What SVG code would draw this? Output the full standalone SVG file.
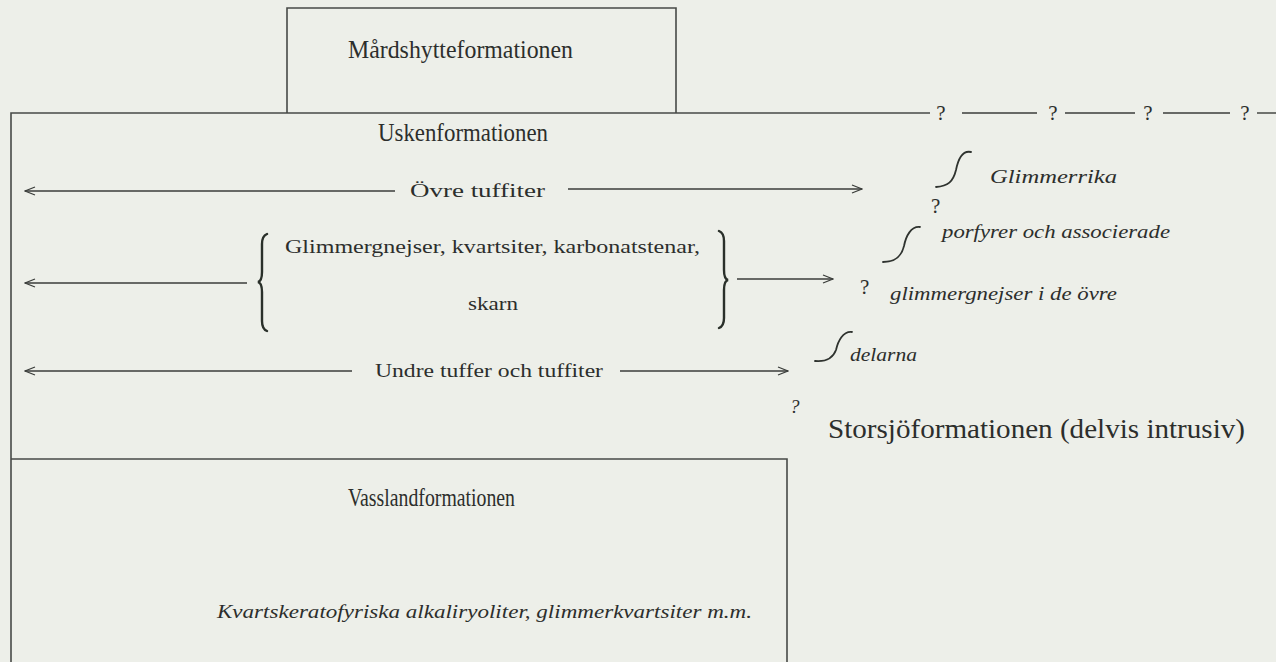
<svg xmlns="http://www.w3.org/2000/svg" width="1276" height="662" viewBox="0 0 1276 662">
<defs>
<marker id="ah" viewBox="0 0 12 10" refX="11" refY="5" markerWidth="12" markerHeight="10" markerUnits="userSpaceOnUse" orient="auto-start-reverse">
<path d="M1 1 L11 5 L1 9" fill="none" stroke="#3a3d3a" stroke-width="1.3"/>
</marker>
<style>
.ln{fill:none;stroke:#3a3d3a;stroke-width:1.4}
.bx{fill:none;stroke:#474a47;stroke-width:1.6}
.t{font-family:"Liberation Serif","Times New Roman",serif;fill:#2c2e2c}
.big{font-size:26px}
.med{font-size:19px}
.q{font-size:21px}
.it{font-style:italic;font-size:19px}
.br{fill:none;stroke:#2a302a;stroke-width:2.4;stroke-linecap:round}
.cv{fill:none;stroke:#2f332f;stroke-width:1.8;stroke-linecap:round}
</style>
</defs>
<rect width="1276" height="662" fill="#edefe9"/>
<g id="mardshytte">
<path class="bx" d="M287 113 V8 H676 V113"/>
<text class="t big" x="348" y="58" textLength="225" lengthAdjust="spacingAndGlyphs">Mårdshytteformationen</text>
</g>
<g id="usken">
<path class="bx" d="M11 662 V113 H930"/>
<text class="t big" x="378" y="141" textLength="170" lengthAdjust="spacingAndGlyphs">Uskenformationen</text>
</g>
<g id="boundary">
<text class="t q" x="941" y="120" text-anchor="middle">?</text>
<line class="ln" x1="962" y1="113" x2="1037" y2="113"/>
<text class="t q" x="1053" y="120" text-anchor="middle">?</text>
<line class="ln" x1="1065" y1="113" x2="1135" y2="113"/>
<text class="t q" x="1148" y="120" text-anchor="middle">?</text>
<line class="ln" x1="1163" y1="113" x2="1230" y2="113"/>
<text class="t q" x="1245" y="120" text-anchor="middle">?</text>
<line class="ln" x1="1257" y1="113" x2="1276" y2="113"/>
</g>
<g id="vassland">
<path class="bx" d="M11 459 H787 V662"/>
<text class="t big" x="348" y="506" textLength="167" lengthAdjust="spacingAndGlyphs">Vasslandformationen</text>
<text class="t it" x="217" y="618" textLength="535" lengthAdjust="spacingAndGlyphs">Kvartskeratofyriska alkaliryoliter, glimmerkvartsiter m.m.</text>
</g>
<g id="ovre">
<text class="t med" x="410" y="197" textLength="135" lengthAdjust="spacingAndGlyphs">Övre tuffiter</text>
</g>
<g id="mellan">
<text class="t med" x="285" y="253" textLength="415" lengthAdjust="spacingAndGlyphs">Glimmergnejser, kvartsiter, karbonatstenar,</text>
<text class="t med" x="468" y="310" textLength="50" lengthAdjust="spacingAndGlyphs">skarn</text>
<path class="br" d="M267 234 Q262 236 262 244 V272 Q262 281 258 282 Q262 283 262 292 V321 Q262 329 267 331"/>
<path class="br" d="M719 231 Q724 233 724 241 V270 Q724 279 728 280 Q724 281 724 290 V318 Q724 326 719 328"/>
</g>
<g id="undre">
<text class="t med" x="375" y="377" textLength="228" lengthAdjust="spacingAndGlyphs">Undre tuffer och tuffiter</text>
</g>
<g id="storsjo">
<path class="cv" d="M971 152 C962 150 958 160 956 170 C953 182 948 186 936 187"/>
<text class="t it" x="990" y="183" textLength="127" lengthAdjust="spacingAndGlyphs">Glimmerrika</text>
<text class="t q" x="931" y="213">?</text>
<path class="cv" d="M920 227 C911 226 906 236 904 246 C901 258 894 262 883 262"/>
<text class="t it" x="942" y="238" textLength="228" lengthAdjust="spacingAndGlyphs">porfyrer och associerade</text>
<text class="t q" x="860" y="294">?</text>
<text class="t it" x="890" y="300" textLength="227" lengthAdjust="spacingAndGlyphs">glimmergnejser i de övre</text>
<path class="cv" d="M852 332 C843 331 838 341 836 350 C833 358 826 362 815 361"/>
<text class="t it" x="850" y="361" textLength="67" lengthAdjust="spacingAndGlyphs">delarna</text>
<text class="t it q" x="790" y="413">?</text>
<text class="t" x="828" y="438" font-size="27" textLength="417" lengthAdjust="spacingAndGlyphs">Storsjöformationen (delvis intrusiv)</text>
</g>
<g id="connectors">
<line class="ln" x1="395" y1="191" x2="25" y2="191" marker-end="url(#ah)"/>
<line class="ln" x1="568" y1="189" x2="862" y2="189" marker-end="url(#ah)"/>
<line class="ln" x1="247" y1="283" x2="25" y2="283" marker-end="url(#ah)"/>
<line class="ln" x1="737" y1="279" x2="833" y2="279" marker-end="url(#ah)"/>
<line class="ln" x1="352" y1="371" x2="25" y2="371" marker-end="url(#ah)"/>
<line class="ln" x1="620" y1="371" x2="788" y2="371" marker-end="url(#ah)"/>
</g>
</svg>
